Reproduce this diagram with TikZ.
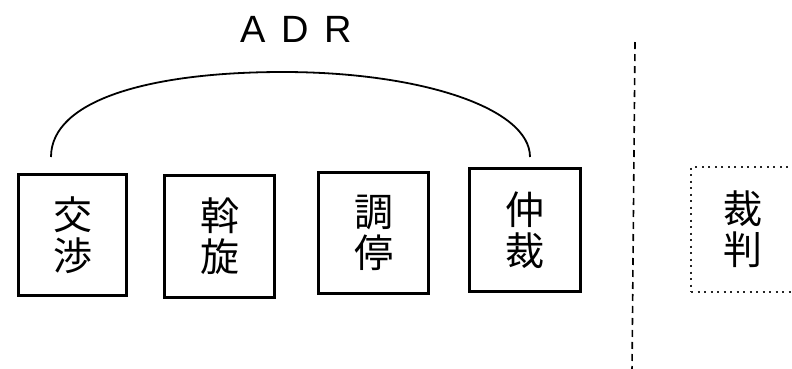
\documentclass[tikz,border=0pt]{standalone}
\usepackage{fontspec}
\setmainfont{Liberation Sans}
\newfontfamily\cjk{Noto Sans CJK JP}
\begin{document}
\begin{tikzpicture}[x=1pt,y=-1pt,
  kbox/.style={draw=black, line width=3pt, inner sep=0pt, align=center,
    font=\cjk\fontsize{39}{41}\selectfont},
  dotbox/.style={kbox, line width=2.2pt, draw=black!85, dash pattern=on 2pt off 4.5pt},
  arcline/.style={line width=1.8pt},
  divider/.style={line width=1.6pt, dash pattern=on 7pt off 5pt}]
\useasboundingbox (0,0) rectangle (792,368);
\node[font=\fontsize{38}{40}\selectfont, anchor=base] (adr) at (296,42) {A\hspace{16pt}D\hspace{15pt}R};
\node[kbox, minimum width=108pt, minimum height=121pt] (n1) at (72.5,235) {交\\渉};
\node[kbox, minimum width=110pt, minimum height=122pt] (n2) at (219.5,236.5) {斡\\旋};
\node[kbox, minimum width=110pt, minimum height=121pt] (n3) at (373.5,233) {調\\停};
\node[kbox, minimum width=111pt, minimum height=123pt] (n4) at (525,230) {仲\\裁};
\node[dotbox, minimum width=103pt, minimum height=125pt] (n5) at (742.5,229.5) {裁\\判};
\coordinate (al) at (51,157);
\coordinate (ar) at (530,157);
\coordinate (top) at (283,72);
\draw[arcline] (al) .. controls (51,100) and (150,72) .. (top) .. controls (420,72) and (530,108) .. (ar);
\coordinate (dt) at (635,42);
\coordinate (db) at (632,372);
\draw[divider] (dt) -- (db);
\end{tikzpicture}
\end{document}
